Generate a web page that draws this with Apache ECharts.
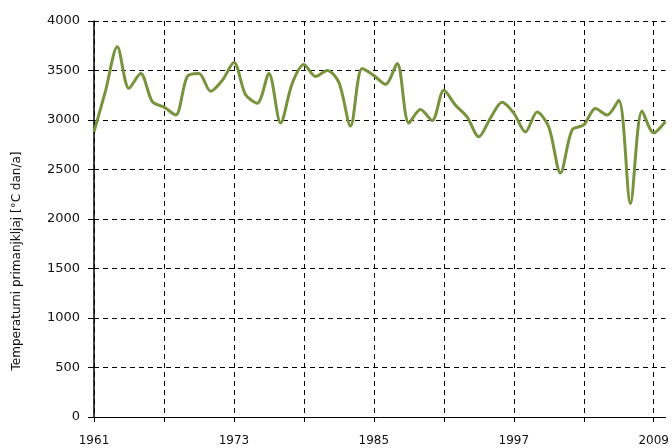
<!DOCTYPE html>
<html>
<head>
<meta charset="utf-8">
<script src="https://cdn.jsdelivr.net/npm/echarts@6/dist/echarts.min.js"></script>
<style>html,body{margin:0;padding:0;background:#fff}#c{width:672px;height:448px}</style>
</head>
<body>
<div id="c"></div>
<script>
const years = [];
for (let y = 1961; y <= 2010; y++) years.push(String(y));
const values = [
  2880, 3300, 3740, 3320, 3470, 3185, 3130, 3050, 3440, 3470,
  3290, 3400, 3580, 3255, 3170, 3470, 2970, 3370, 3560, 3440,
  3500, 3380, 2940, 3520, 3450, 3360, 3570, 2970, 3105, 2995,
  3300, 3150, 3030, 2830, 3020, 3180, 3070, 2880, 3080, 2930,
  2465, 2900, 2950, 3115, 3050, 3200, 2155, 3090, 2870, 2985
];
const yTicks = [0, 500, 1000, 1500, 2000, 2500, 3000, 3500, 4000];
const yTitle = 'Temperaturni primanjkljaj [°C dan/a]';

const chart = echarts.init(document.getElementById('c'), null, {renderer: 'canvas'});
const font = 'DejaVu Sans, Verdana, sans-serif';
chart.setOption({
  animation: false,
  backgroundColor: '#ffffff',
  grid: {left: 94, right: 4, top: 21, bottom: 31, containLabel: false},
  xAxis: {
    type: 'category',
    data: years,
    boundaryGap: false,
    axisLine: {lineStyle: {color: '#000', width: 1}},
    axisTick: {show: true, interval: 5, length: 5, lineStyle: {color: '#000'}},
    axisLabel: {interval: 11, color: '#111', fontFamily: font, fontSize: 12, margin: 18},
    splitLine: {show: true, interval: 5, lineStyle: {color: '#000', type: [5, 4], width: 1}}
  },
  yAxis: {
    type: 'value',
    min: yTicks[0],
    max: yTicks[yTicks.length - 1],
    interval: 500,
    axisLine: {show: true, lineStyle: {color: '#000', width: 1.5}},
    axisTick: {show: true, length: 6, lineStyle: {color: '#000'}},
    axisLabel: {color: '#111', fontFamily: font, fontSize: 13, margin: 14, formatter: v => String(v)},
    splitLine: {show: true, lineStyle: {color: '#000', type: [5, 4], width: 1}}
  },
  graphic: [{
    type: 'text',
    x: 17, y: 261,
    rotation: Math.PI / 2,
    style: {
      text: yTitle,
      font: '12px ' + font,
      fill: '#111',
      align: 'center',
      verticalAlign: 'middle'
    }
  }],
  series: [{
    type: 'line',
    data: values,
    smooth: 0.3,
    showSymbol: false,
    lineStyle: {color: '#77933C', width: 3},
    itemStyle: {color: '#77933C'}
  }]
});
</script>
</body>
</html>
